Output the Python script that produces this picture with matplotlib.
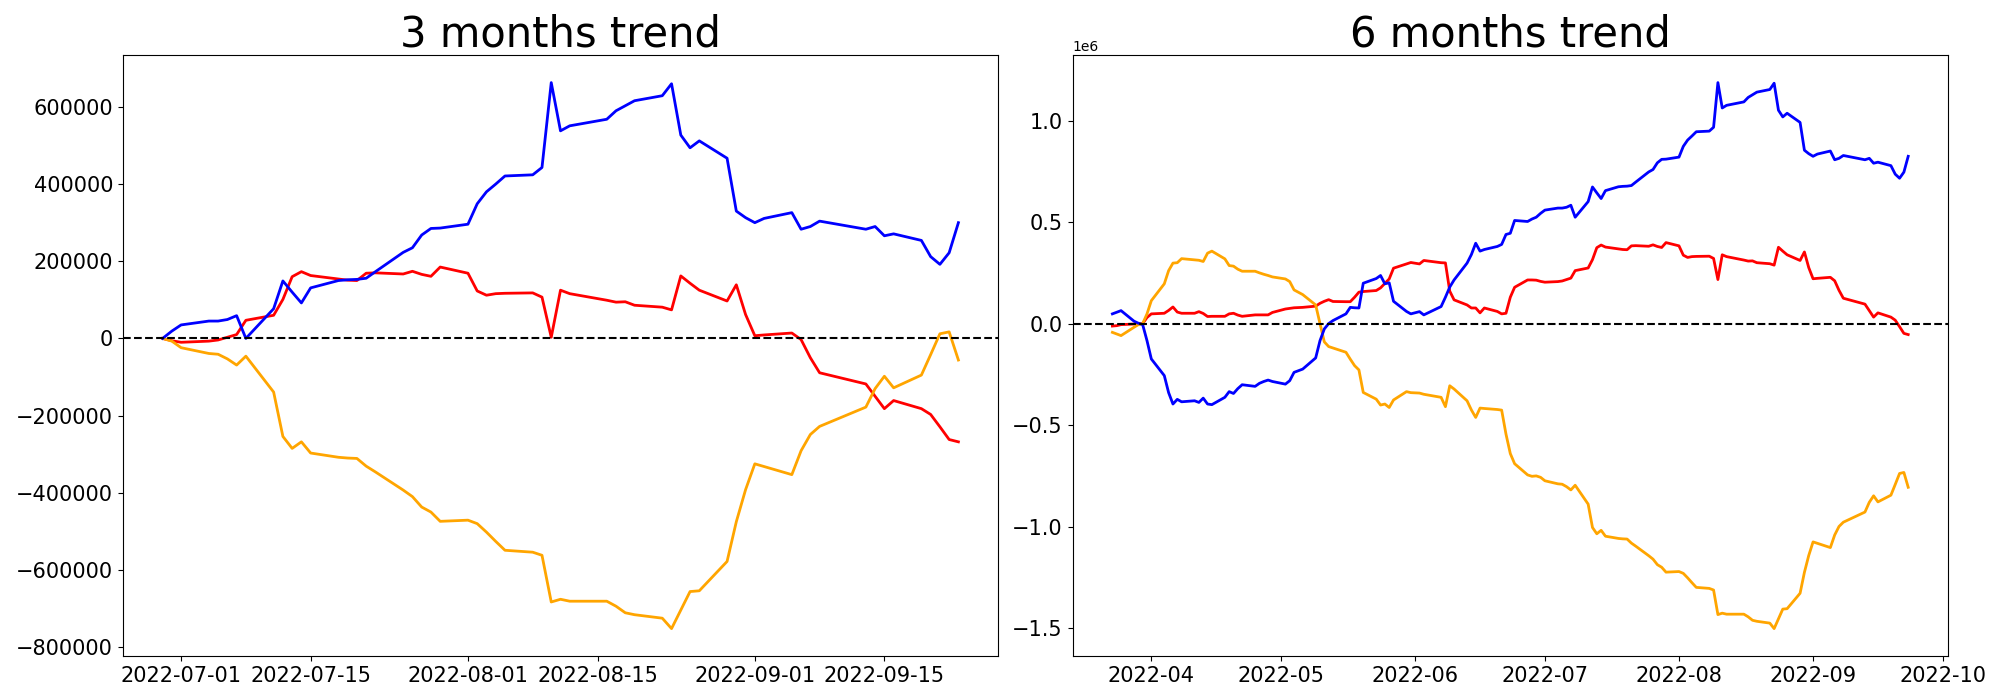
import matplotlib
matplotlib.use("Agg")
import matplotlib.pyplot as plt
import numpy as np
import pandas as pd

# trading days, 3 months window
days_3m = ["2022-06-29", "2022-06-30", "2022-07-01", "2022-07-04", "2022-07-05", "2022-07-06",
           "2022-07-07", "2022-07-08", "2022-07-11", "2022-07-12", "2022-07-13", "2022-07-14",
           "2022-07-15", "2022-07-18", "2022-07-19", "2022-07-20", "2022-07-21", "2022-07-22",
           "2022-07-25", "2022-07-26", "2022-07-27", "2022-07-28", "2022-07-29", "2022-08-01",
           "2022-08-02", "2022-08-03", "2022-08-04", "2022-08-05", "2022-08-08", "2022-08-09",
           "2022-08-10", "2022-08-11", "2022-08-12", "2022-08-16", "2022-08-17", "2022-08-18",
           "2022-08-19", "2022-08-22", "2022-08-23", "2022-08-24", "2022-08-25", "2022-08-26",
           "2022-08-29", "2022-08-30", "2022-08-31", "2022-09-01", "2022-09-02", "2022-09-05",
           "2022-09-06", "2022-09-07", "2022-09-08", "2022-09-13", "2022-09-14", "2022-09-15",
           "2022-09-16", "2022-09-19", "2022-09-20", "2022-09-21", "2022-09-22", "2022-09-23"]

# values in thousands
blue_3m = [0, 19, 35, 45, 45, 49, 59, 0, 77, 149, 120, 92, 131, 150, 152, 153, 156, 173,
           223, 235, 268, 285, 286, 296, 349, 380, 400, 421, 424, 443, 663, 538, 551, 568,
           590, 603, 616, 629, 660, 527, 494, 512, 467, 330, 313, 300, 311, 326, 283, 290,
           304, 283, 290, 266, 271, 254, 212, 192, 222, 300]
red_3m = [0, -6, -10, -7, -4, 3, 10, 47, 60, 101, 160, 173, 163, 154, 151, 150, 169, 170,
          167, 174, 166, 161, 185, 169, 123, 112, 116, 117, 118, 107, 3, 125, 116, 99,
          94, 95, 86, 81, 74, 162, 143, 125, 97, 139, 62, 7, 9, 14, -3, -50,
          -89, -118, -150, -182, -161, -182, -197, -229, -262, -268]
orange_3m = [0, -7, -24, -39, -41, -53, -69, -46, -139, -254, -285, -268, -297, -308, -310,
             -311, -331, -346, -393, -410, -437, -450, -474, -471, -480, -502, -526, -549,
             -554, -562, -683, -676, -681, -681, -694, -711, -716, -725, -752, -704, -656,
             -654, -578, -475, -392, -325, -332, -353, -291, -249, -228, -178, -130, -98,
             -128, -95, -42, 12, 17, -56]

# extra trading days before the 3 months window
days_early = ["2022-03-23", "2022-03-24", "2022-03-25", "2022-03-28", "2022-03-29", "2022-03-30",
              "2022-03-31", "2022-04-01", "2022-04-04", "2022-04-05", "2022-04-06", "2022-04-07",
              "2022-04-08", "2022-04-11", "2022-04-12", "2022-04-13", "2022-04-14", "2022-04-15",
              "2022-04-18", "2022-04-19", "2022-04-20", "2022-04-21", "2022-04-22", "2022-04-25",
              "2022-04-26", "2022-04-27", "2022-04-28", "2022-04-29", "2022-05-02", "2022-05-03",
              "2022-05-04", "2022-05-06", "2022-05-09", "2022-05-10", "2022-05-11", "2022-05-12",
              "2022-05-13", "2022-05-16", "2022-05-17", "2022-05-18", "2022-05-19", "2022-05-20",
              "2022-05-23", "2022-05-24", "2022-05-25", "2022-05-26", "2022-05-27", "2022-05-30",
              "2022-05-31", "2022-06-02", "2022-06-03", "2022-06-07", "2022-06-08", "2022-06-09",
              "2022-06-10", "2022-06-13", "2022-06-14", "2022-06-15", "2022-06-16", "2022-06-17",
              "2022-06-20", "2022-06-21", "2022-06-22", "2022-06-23", "2022-06-24", "2022-06-27",
              "2022-06-28"]
days_6m = days_early + days_3m

blue_6m = [48, 56, 64, 12, 2, -5, -84,
           -174, -256, -340, -396, -373, -385, -380, -388, -367, -396, -399, -363, -335, -344,
           -320, -301, -309, -294, -285, -278, -285,
           -298, -281, -240, -224, -169, -84, -26, 0, 15, 48, 80, 78, 77, 199, 222, 237, 196,
           201, 110, 60, 48,
           59, 43, 84, 130, 180, 215, 298, 340, 396, 357, 365, 380, 390, 439, 445, 508, 503, 515,
           524, 543, 559, 569, 569, 573, 583, 524, 601, 673, 644, 616, 655, 674, 676, 677, 680,
           697, 747, 759, 792, 809, 810, 820, 873, 904, 924, 945, 948, 967, 1187, 1062, 1075,
           1092, 1114, 1127, 1140, 1153, 1184, 1051, 1018, 1036, 991, 854, 837, 824, 835, 850,
           807, 814, 828, 807, 814, 790, 795, 778, 736, 716, 746, 824]
red_6m = [-12, -10, -5, -2, 0, 0, 30,
          48, 51, 65, 82, 57, 51, 51, 59, 50, 35, 36, 36, 48, 51, 42, 36, 43, 43, 43, 43, 55,
          72, 75, 78, 80, 86, 100, 110, 118, 109, 108, 108, 130, 155, 158, 163, 176, 198, 220,
          273, 294, 301,
          294, 311, 300, 299, 160, 117, 92, 77, 77, 53, 77, 60, 48, 51, 130, 179, 215, 215,
          214, 208, 204, 207, 210, 217, 224, 261, 274, 315, 374, 387, 377, 368, 365, 364, 383,
          384, 381, 388, 380, 375, 399, 383, 337, 326, 330, 331, 332, 321, 217, 339, 330, 313,
          308, 309, 300, 295, 288, 376, 357, 339, 311, 353, 276, 221, 223, 228, 211, 164, 125,
          96, 64, 32, 53, 32, 17, -15, -48, -54]
orange_6m = [-43, -51, -59, -18, -5, 0, 48,
             113, 196, 261, 298, 300, 320, 314, 312, 306, 347, 357, 319, 286, 283, 268, 258, 258,
             250, 243, 237, 230,
             220, 207, 166, 143, 92, 0, -90, -113, -120, -141, -175, -207, -228, -339, -372,
             -401, -396, -413, -376, -335, -340,
             -342, -348, -363, -409, -306, -322, -380, -425, -462, -416, -418, -423, -426, -544,
             -640, -690, -745, -752,
             -750, -757, -774, -789, -791, -803, -819, -796, -889, -1004, -1035, -1018, -1047,
             -1058, -1060, -1061, -1081, -1096, -1143, -1160, -1187, -1200, -1224, -1221, -1230,
             -1252, -1276, -1299, -1304, -1312, -1433, -1426, -1431, -1431, -1444, -1461, -1466,
             -1475, -1502, -1454, -1406, -1404, -1328, -1225, -1142, -1075, -1082, -1103, -1041,
             -999, -978, -928, -880, -848, -878, -845, -792, -738, -733, -806]

panels = [
    ("3 months trend", days_3m, blue_3m, red_3m, orange_3m),
    ("6 months trend", days_6m, blue_6m, red_6m, orange_6m),
]

fig, axes = plt.subplots(1, 2, figsize=(20, 7))
for ax, (title, days, blue, red, orange) in zip(axes, panels):
    x = pd.to_datetime(days)
    ax.plot(x, np.array(red) * 1000, color="red", linewidth=2)
    ax.plot(x, np.array(orange) * 1000, color="orange", linewidth=2)
    ax.plot(x, np.array(blue) * 1000, color="blue", linewidth=2)
    ax.axhline(0, color="black", linestyle="--", linewidth=1.5)
    ax.set_title(title, fontsize=30)
    ax.tick_params(labelsize=15)

fig.subplots_adjust(left=0.0614, right=0.974, bottom=0.063, top=0.921, wspace=0.085)
fig.savefig("out.png", dpi=100)
